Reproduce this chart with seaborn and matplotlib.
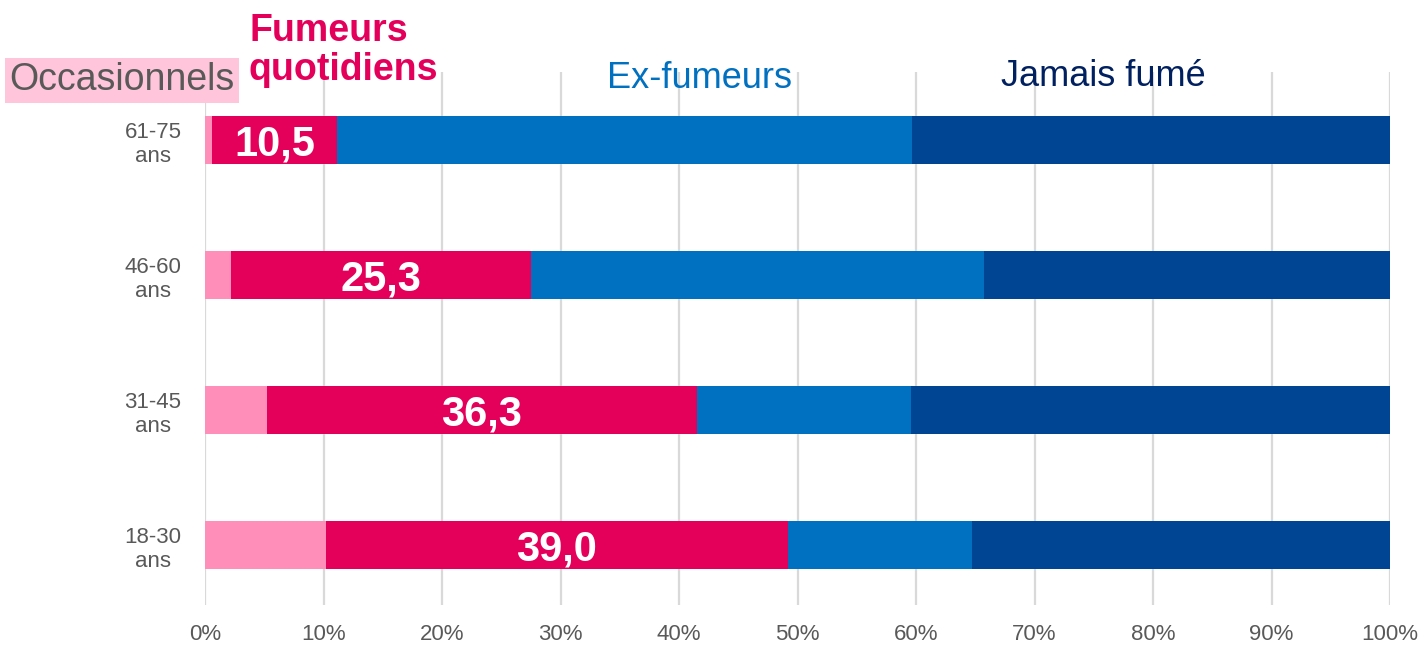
import matplotlib
matplotlib.use("Agg")
import matplotlib.pyplot as plt
import seaborn as sns
import pandas as pd
import numpy as np

# data (percent of each age group)
ages = ["61-75\nans", "46-60\nans", "31-45\nans", "18-30\nans"]
occasionnels = [0.6, 2.2, 5.2, 10.2]
quotidiens = [10.5, 25.3, 36.3, 39.0]
ex_fumeurs = [48.6, 38.2, 18.1, 15.5]
jamais = [40.3, 34.3, 40.4, 35.3]

series_names = ["Occasionnels", "Fumeurs quotidiens", "Ex-fumeurs", "Jamais fumé"]
colors = ["#FF8FB8", "#E4005A", "#0070C0", "#004494"]
xticks = [0, 10, 20, 30, 40, 50, 60, 70, 80, 90, 100]

sns.set_theme(style="white")
plt.rcParams["font.family"] = ["Liberation Sans", "DejaVu Sans"]

df = pd.DataFrame({
    "age": ages,
    "Occasionnels": occasionnels,
    "Fumeurs quotidiens": quotidiens,
    "Ex-fumeurs": ex_fumeurs,
    "Jamais fumé": jamais,
})
cum = df[series_names].cumsum(axis=1)
cum["age"] = ages

fig = plt.figure(figsize=(14.23, 6.5), dpi=100)
ax = fig.add_axes([205 / 1423, 1 - 605 / 650, (1390 - 205) / 1423, (605 - 72) / 650])

# draw stacked bars: widest cumulative first
for name, col in reversed(list(zip(series_names, colors))):
    sns.barplot(data=cum, x=name, y="age", order=ages, color=col,
                orient="h", width=0.355, saturation=1, ax=ax,
                edgecolor="none", linewidth=0, zorder=2)

# values of daily smokers, centred in their segment
for i, (o, q) in enumerate(zip(occasionnels, quotidiens)):
    ax.text(o + q / 2, i + 0.03, f"{q:.1f}".replace(".", ","), ha="center",
            va="center", color="white", fontsize=30, fontweight="bold", zorder=3)

ax.set_xlim(0, 100)
ax.set_ylim(3.444, -0.504)
ax.set_xticks(xticks)
ax.set_xticklabels([f"{t}%" for t in xticks])
ax.xaxis.grid(True, color="#D9D9D9", linewidth=1.6, zorder=0)
ax.set_axisbelow(True)
ax.set_xlabel("")
ax.set_ylabel("")
for s in ax.spines.values():
    s.set_visible(False)
ax.tick_params(axis="x", length=0, pad=14, labelsize=16, labelcolor="#595959")
ax.tick_params(axis="y", length=0, pad=17, labelsize=16, labelcolor="#595959")
for lab in ax.get_yticklabels():
    lab.set_multialignment("center")

# series headers
fig.text(122 / 1423, 1 - 80 / 650, "Occasionnels", ha="center", va="center",
         fontsize=27, color="#595959",
         bbox=dict(boxstyle="square,pad=0.12", facecolor="#FFC5DA", edgecolor="none"))
fig.text(249 / 1423, 1 - 13 / 650, "Fumeurs\nquotidiens", ha="left", va="top",
         fontsize=27, fontweight="bold", color="#E4005A", linespacing=1.12)
fig.text(700 / 1423, 1 - 79 / 650, "Ex-fumeurs", ha="center", va="center",
         fontsize=26, color="#0070C0")
fig.text(1103 / 1423, 1 - 77 / 650, "Jamais fumé", ha="center", va="center",
         fontsize=26, color="#002060")

fig.savefig("out.png", dpi=100)
